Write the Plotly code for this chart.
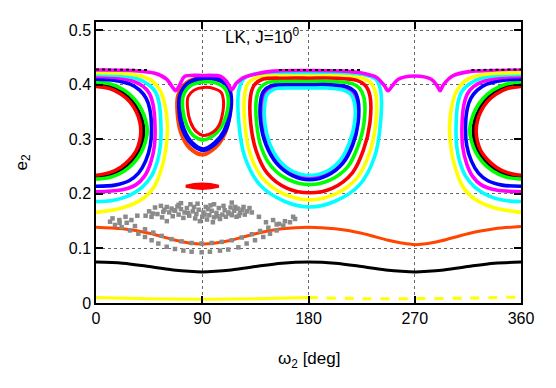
import plotly.graph_objs as go

# ---- data (omega2 in deg, e2) ----

# librating orbits around omega2 = 0 (drawn again mirrored at 360 through a reversed axis)
isl0_black_w = [0, 12, 22, 30, 35.5, 39, 40, 39, 35.5, 30, 22, 12, 0]
isl0_black_e = [0.401, 0.397, 0.386, 0.371, 0.352, 0.333, 0.315, 0.296, 0.276, 0.259, 0.244, 0.234, 0.230]
isl0_red_w = [0, 11.5, 21, 28.5, 34, 37, 38, 37, 34, 28.5, 21, 11.5, 0]
isl0_red_e = [0.397, 0.393, 0.383, 0.369, 0.351, 0.333, 0.315, 0.297, 0.279, 0.263, 0.249, 0.239, 0.234]
isl0_green_w = [0, 13, 24, 32.5, 38.5, 42, 43.5, 42, 38.5, 32.5, 24, 13, 0]
isl0_green_e = [0.405, 0.401, 0.390, 0.374, 0.355, 0.335, 0.316, 0.297, 0.277, 0.258, 0.242, 0.231, 0.227]
isl0_blue_w = [0, 16, 29, 37, 42.5, 45.5, 47, 46, 42, 36, 28, 16, 0]
isl0_blue_e = [0.410, 0.408, 0.401, 0.390, 0.375, 0.356, 0.324, 0.289, 0.260, 0.238, 0.224, 0.216, 0.214]
isl0_magenta_w = [0, 18, 31, 40, 45.5, 48.5, 50, 49.5, 46, 41, 34, 21, 0]
isl0_magenta_e = [0.415, 0.413, 0.407, 0.397, 0.383, 0.362, 0.324, 0.288, 0.255, 0.232, 0.217, 0.207, 0.204]
isl0_cyan_w = [0, 20, 35, 44, 50, 53.5, 55, 54.5, 52, 47, 39, 27, 14, 0]
isl0_cyan_e = [0.419, 0.417, 0.411, 0.401, 0.388, 0.366, 0.324, 0.288, 0.260, 0.233, 0.212, 0.196, 0.188, 0.186]
isl0_yellow_w = [0, 20, 38, 48, 54.5, 58.5, 60.5, 59.5, 56, 49, 39, 22, 0]
isl0_yellow_e = [0.422, 0.421, 0.416, 0.406, 0.389, 0.362, 0.325, 0.288, 0.250, 0.212, 0.190, 0.174, 0.166]

# librating orbits around omega2 = 180
isl180_cyan_out_w = [133, 160, 181, 205, 228, 237, 241, 241, 236, 223, 202, 181, 160, 139, 126, 121, 121, 125, 133]
isl180_cyan_out_e = [0.419, 0.421, 0.421, 0.421, 0.418, 0.410, 0.390, 0.330, 0.268, 0.216, 0.186, 0.176, 0.186, 0.216, 0.268, 0.330, 0.390, 0.410, 0.419]
isl180_yellow_w = [137, 160, 181, 204, 226, 233, 237, 237, 231.5, 221, 202, 181, 160, 141, 130.5, 126, 126, 129, 137]
isl180_yellow_e = [0.414, 0.416, 0.416, 0.416, 0.412, 0.403, 0.383, 0.330, 0.274, 0.229, 0.199, 0.189, 0.199, 0.229, 0.274, 0.330, 0.383, 0.403, 0.414]
isl180_red_w = [141, 161, 181, 202, 221, 228, 232, 232, 226.5, 217, 200, 181, 162, 145, 135.5, 131, 131, 134, 141]
isl180_red_e = [0.410, 0.412, 0.412, 0.412, 0.408, 0.399, 0.380, 0.330, 0.280, 0.238, 0.210, 0.202, 0.210, 0.238, 0.280, 0.330, 0.380, 0.399, 0.410]
isl180_green_w = [145, 163, 181, 200, 217, 223, 227, 227, 221.5, 213, 198, 181, 164, 149, 140, 136, 136, 139, 145]
isl180_green_e = [0.404, 0.406, 0.406, 0.406, 0.402, 0.394, 0.376, 0.330, 0.285, 0.249, 0.225, 0.217, 0.225, 0.249, 0.285, 0.330, 0.376, 0.394, 0.404]
isl180_magenta_w = [150, 166, 181, 197, 212, 218, 220.5, 220.5, 216, 208, 195, 181, 167, 154, 146, 141.5, 141.5, 144, 150]
isl180_magenta_e = [0.396, 0.398, 0.398, 0.398, 0.394, 0.386, 0.369, 0.330, 0.291, 0.259, 0.237, 0.229, 0.237, 0.259, 0.291, 0.330, 0.369, 0.386, 0.396]
isl180_blue_w = [148, 165, 181, 198, 213, 219, 222, 222, 217.5, 209, 196, 181, 166, 153, 144, 139.5, 139.5, 142, 148]
isl180_blue_e = [0.398, 0.400, 0.400, 0.400, 0.396, 0.388, 0.371, 0.330, 0.290, 0.256, 0.234, 0.226, 0.234, 0.256, 0.290, 0.330, 0.371, 0.388, 0.398]
isl180_cyan_in_w = [151, 166, 181, 196, 210, 216, 219, 219, 214.5, 207, 195, 181, 167, 155, 147, 143, 143, 145, 151]
isl180_cyan_in_e = [0.392, 0.394, 0.394, 0.394, 0.390, 0.382, 0.366, 0.330, 0.293, 0.262, 0.241, 0.234, 0.241, 0.262, 0.293, 0.330, 0.366, 0.382, 0.392]

# small island around omega2 = 90
isl90_orange_w = [90, 103, 111, 114, 113, 109, 101, 90, 79, 72, 69, 69.5, 77, 90]
isl90_orange_e = [0.414, 0.412, 0.401, 0.378, 0.343, 0.310, 0.285, 0.272, 0.285, 0.312, 0.348, 0.380, 0.404, 0.414]
isl90_blue_w = [91, 103, 111, 114, 113, 109, 101, 91, 81, 74, 71, 71.5, 78, 91]
isl90_blue_e = [0.412, 0.410, 0.400, 0.378, 0.345, 0.315, 0.293, 0.281, 0.293, 0.318, 0.350, 0.380, 0.402, 0.412]
isl90_green_w = [91, 102, 109, 112, 110.5, 106, 99, 91, 83, 77, 73.5, 74, 80, 91]
isl90_green_e = [0.405, 0.403, 0.394, 0.375, 0.345, 0.322, 0.306, 0.299, 0.306, 0.325, 0.355, 0.380, 0.398, 0.405]
isl90_red_w = [91, 100, 106, 108, 107, 104, 99, 91, 85, 80, 77.5, 78, 83, 91]
isl90_red_e = [0.395, 0.393, 0.386, 0.370, 0.345, 0.325, 0.313, 0.307, 0.314, 0.332, 0.358, 0.378, 0.390, 0.395]
blob90_w = [76, 83, 90, 97, 104, 97, 90, 83, 76]
blob90_e = [0.214, 0.217, 0.218, 0.217, 0.214, 0.211, 0.210, 0.211, 0.214]

# circulating orbit on top with the four dips
top_w = [0, 30, 50, 60, 64, 67.5, 71, 75, 90, 106, 111, 115, 119, 125, 136, 150, 180, 210, 224, 232,
         238, 244, 247.5, 251, 256, 270, 284, 289, 291.5, 294, 302, 316, 340, 360]
top_e = [0.427, 0.426, 0.421, 0.410, 0.398, 0.389, 0.400, 0.415, 0.417, 0.415, 0.405, 0.391, 0.403, 0.413, 0.420, 0.425, 0.426, 0.425, 0.422, 0.418,
         0.413, 0.399, 0.389, 0.398, 0.410, 0.416, 0.410, 0.398, 0.389, 0.399, 0.416, 0.424, 0.426, 0.427]
top_dots_w = [0, 45, None, 155, 225, None, 318, 360]
top_dots_e = [0.428, 0.427, None, 0.427, 0.427, None, 0.427, 0.428]

# low-eccentricity circulating orbits
circ_w = [0, 22.5, 45, 67.5, 78.75, 90, 101.25, 112.5, 135, 157.5, 180,
          202.5, 225, 247.5, 258.75, 270, 281.25, 292.5, 315, 337.5, 360]
orange_e = [0.139, 0.136, 0.128, 0.115, 0.110, 0.108, 0.110, 0.114, 0.127, 0.136, 0.139,
            0.136, 0.128, 0.115, 0.110, 0.107, 0.109, 0.114, 0.127, 0.136, 0.140]
black_e = [0.075, 0.073, 0.067, 0.060, 0.058, 0.057, 0.058, 0.060, 0.067, 0.073, 0.075,
           0.073, 0.067, 0.060, 0.058, 0.057, 0.058, 0.060, 0.067, 0.073, 0.075]
yellow_low_w1 = [0, 45, 90, 135, 180]
yellow_low_e1 = [0.010, 0.008, 0.007, 0.008, 0.010]
yellow_low_w2 = [180, 225, 270, 315, 360]
yellow_low_e2 = [0.010, 0.008, 0.008, 0.009, 0.011]

# chaotic orbit (gray points)
gray_w = [11.9, 16.1, 21.7, 28.8, 35.9, 41.5, 47.1, 52.8, 59.9, 66.9, 74, 81, 89.5, 96.5, 105, 112, 120.6, 127.6,
          134.7, 141.7, 147.4, 153, 158.7, 164.3, 168.6,
          14, 19.8, 26, 33, 41.5, 48.5, 55.6, 64, 72.5, 81, 89.5, 98, 106.5, 115, 123.5, 132, 139, 146, 153, 160, 167,
          42, 45, 47, 50, 52, 55, 56, 58, 60, 62, 64, 65, 67, 69, 70, 72, 74, 75, 77, 79, 80, 82, 84, 85, 87, 88,
          90, 91, 93, 94, 96, 98, 99, 100, 102, 104, 105, 107, 109, 110, 112, 114, 115, 117, 119, 120, 122, 124,
          126, 128, 130, 132,
          72, 86, 100, 115, 138, 144, 150, 155, 25, 30, 35, 20, 60, 95, 108, 118,
          48, 57, 66, 78, 92, 103, 113, 125, 83, 97, 70, 121]
gray_e = [0.149, 0.143, 0.139, 0.133, 0.127, 0.121, 0.115, 0.109, 0.103, 0.099, 0.096, 0.094, 0.093, 0.094, 0.096, 0.098, 0.102, 0.109,
          0.115, 0.121, 0.127, 0.133, 0.142, 0.148, 0.154,
          0.155, 0.152, 0.147, 0.141, 0.135, 0.129, 0.123, 0.117, 0.113, 0.110, 0.109, 0.110, 0.112, 0.115, 0.120, 0.126, 0.132, 0.138, 0.144, 0.150, 0.158,
          0.160, 0.168, 0.158, 0.175, 0.163, 0.178, 0.157, 0.171, 0.176, 0.166, 0.173, 0.159, 0.169, 0.177, 0.162, 0.172, 0.156, 0.166, 0.174, 0.160, 0.181, 0.168, 0.155, 0.163, 0.171, 0.150,
          0.158, 0.166, 0.176, 0.153, 0.161, 0.169, 0.148, 0.157, 0.165, 0.174, 0.154, 0.162, 0.170, 0.158, 0.166, 0.175, 0.161, 0.169, 0.158, 0.173, 0.165, 0.171,
          0.162, 0.168, 0.174, 0.166,
          0.183, 0.182, 0.181, 0.184, 0.158, 0.148, 0.152, 0.145, 0.158, 0.152, 0.160, 0.147, 0.150, 0.172, 0.178, 0.176,
          0.164, 0.167, 0.170, 0.165, 0.162, 0.159, 0.164, 0.176, 0.176, 0.179, 0.180, 0.160]

x_ticks = [0, 90, 180, 270, 360]
y_ticks = [0, 0.1, 0.2, 0.3, 0.4, 0.5]
y_tick_labels = ["0", "0.1", "0.2", "0.3", "0.4", "0.5"]

FONT = "Liberation Sans, Arial, sans-serif"
LW = 3.6


def add_curve(fig, w, e, color, width=LW, xaxis="x", dash="solid"):
    fig.add_trace(go.Scatter(x=w, y=e, mode="lines", xaxis=xaxis,
                             line=dict(color=color, width=width, dash=dash,
                                       shape="spline", smoothing=0.9),
                             hoverinfo="skip"))


def main():
    fig = go.Figure()

    # low orbits
    add_curve(fig, yellow_low_w1, yellow_low_e1, "#ffff00", width=3)
    add_curve(fig, yellow_low_w2, yellow_low_e2, "#ffff00", width=3, dash="dash")
    add_curve(fig, circ_w, black_e, "#000000", width=3)
    add_curve(fig, circ_w, orange_e, "#ff4500", width=3)

    # chaotic one
    fig.add_trace(go.Scatter(x=gray_w, y=gray_e, mode="markers",
                             marker=dict(color="#8a8a8a", size=4.5, symbol="square"),
                             hoverinfo="skip"))

    # island at 0 and its mirror at 360
    isl0 = [(isl0_black_w, isl0_black_e, "#000000", 4.4),
            (isl0_red_w, isl0_red_e, "#ff0000", LW),
            (isl0_green_w, isl0_green_e, "#00ff00", LW),
            (isl0_blue_w, isl0_blue_e, "#0000ff", LW),
            (isl0_magenta_w, isl0_magenta_e, "#ff00ff", LW),
            (isl0_cyan_w, isl0_cyan_e, "#00ffff", LW),
            (isl0_yellow_w, isl0_yellow_e, "#ffff00", LW)]
    for ax in ["x", "x2"]:
        for w, e, c, lw in isl0:
            add_curve(fig, w, e, c, width=lw, xaxis=ax)

    # island at 180
    for w, e, c in [(isl180_cyan_out_w, isl180_cyan_out_e, "#00ffff"),
                    (isl180_yellow_w, isl180_yellow_e, "#ffff00"),
                    (isl180_red_w, isl180_red_e, "#ff0000"),
                    (isl180_green_w, isl180_green_e, "#00ff00"),
                    (isl180_magenta_w, isl180_magenta_e, "#ff00ff"),
                    (isl180_blue_w, isl180_blue_e, "#0000ff"),
                    (isl180_cyan_in_w, isl180_cyan_in_e, "#00ffff")]:
        add_curve(fig, w, e, c)

    # island at 90
    add_curve(fig, isl90_orange_w, isl90_orange_e, "#ff4500", width=4)
    add_curve(fig, isl90_blue_w, isl90_blue_e, "#0000ff", width=5)
    add_curve(fig, isl90_green_w, isl90_green_e, "#00ff00", width=LW)
    add_curve(fig, isl90_red_w, isl90_red_e, "#ff0000", width=3)
    fig.add_trace(go.Scatter(x=blob90_w, y=blob90_e, mode="lines", fill="toself",
                             fillcolor="#ff0000", line=dict(color="#ff0000", width=3),
                             hoverinfo="skip"))

    # top orbit
    add_curve(fig, top_w, top_e, "#ff00ff", width=LW)
    fig.add_trace(go.Scatter(x=top_dots_w, y=top_dots_e, mode="lines",
                             line=dict(color="#000000", width=2, dash="dot"),
                             hoverinfo="skip"))

    fig.add_annotation(x=141, y=0.49, xref="x", yref="y", showarrow=False,
                       text="LK, J=10<sup>0</sup>",
                       font=dict(family=FONT, size=17, color="#000000"))

    # axis titles as annotations so the margins stay fixed
    fig.add_annotation(x=0.5, y=0, xref="paper", yref="paper", yshift=-57,
                       xanchor="center", yanchor="middle", showarrow=False,
                       text="ω<sub>2</sub> [deg]",
                       font=dict(family=FONT, size=17, color="#000000"))
    fig.add_annotation(x=0, y=0.5, xref="paper", yref="paper", xshift=-74,
                       xanchor="center", yanchor="middle", showarrow=False, textangle=-90,
                       text="e<sub>2</sub>",
                       font=dict(family=FONT, size=17, color="#000000"))

    axis_common = dict(showline=True, linecolor="#000000", linewidth=1.5, mirror="ticks",
                       ticks="inside", ticklen=7, tickcolor="#000000", tickwidth=1.5,
                       showgrid=True, gridcolor="#666666", griddash="dot", gridwidth=1,
                       zeroline=False, automargin=False,
                       tickfont=dict(family=FONT, size=16, color="#000000"))

    # the page puts the plot 8px in from the top-left corner
    fig.update_layout(
        width=556, height=388,
        margin=dict(l=88, r=43, t=14, b=93),
        paper_bgcolor="white", plot_bgcolor="white",
        showlegend=False,
        xaxis=dict(range=[0, 360], tickvals=x_ticks, **axis_common),
        xaxis2=dict(range=[360, 0], overlaying="x", visible=False),
        yaxis=dict(range=[0, 0.515], tickvals=y_ticks, ticktext=y_tick_labels, **axis_common),
    )

    fig.write_html("out.html")


if __name__ == "__main__":
    main()
